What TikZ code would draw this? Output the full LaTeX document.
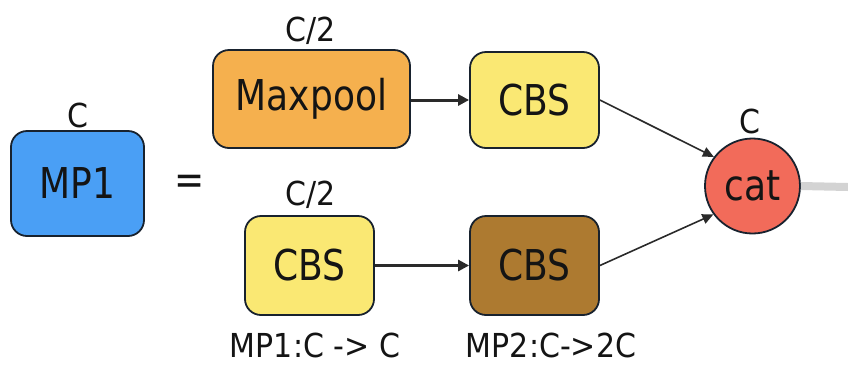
\documentclass[tikz,border=0pt]{standalone}
\usepackage{fontspec}
\setmainfont{DejaVu Sans}
\usepackage{graphicx}
\usetikzlibrary{arrows.meta}
\definecolor{mpblue}{HTML}{4A9FF5}
\definecolor{mporange}{HTML}{F5B04E}
\definecolor{mpyellow}{HTML}{FAE873}
\definecolor{mpbrown}{HTML}{AD7A30}
\definecolor{mpred}{HTML}{F26B5A}
\definecolor{bordc}{HTML}{18222E}
\definecolor{txtc}{HTML}{141414}
\definecolor{linec}{HTML}{2A2A2A}
\definecolor{outc}{HTML}{D3D3D3}
\newcommand\bigtxt[1]{\scalebox{1}[1.18]{\fontsize{36}{40}\selectfont #1}}
\newcommand\smalltxt[1]{\scalebox{1}[1.1]{\fontsize{30}{34}\selectfont #1}}
\begin{document}
\begin{tikzpicture}[x=1pt,y=-1pt,
  box/.style={draw=bordc,line width=1.8pt,rounded corners=16pt,inner sep=0pt,text=txtc},
  lbl/.style={inner sep=0pt,anchor=base,text=txtc},
  arr/.style={draw=linec,line width=3pt,-{Triangle[length=11pt,width=11pt]}},
  darr/.style={draw=linec,line width=1.6pt,-{Triangle[length=11pt,width=10pt]}}]
\useasboundingbox (0,0) rectangle (848,365);
\node[box,fill=mpblue,minimum width=133pt,minimum height=105pt] (mp1) at (77.5,183.5) {\bigtxt{MP1}};
\node[lbl] (lc1) at (78,127) {\smalltxt{C}};
\node[inner sep=0pt,text=txtc] (eq) at (190,185) {\bigtxt{=}};
\node[box,fill=mporange,minimum width=197pt,minimum height=98pt] (mx) at (311.5,99) {\bigtxt{Maxpool}};
\node[lbl] (lc2) at (311,41) {\smalltxt{C/2}};
\node[box,fill=mpyellow,minimum width=129pt,minimum height=96pt] (cbs1) at (534.5,100) {\bigtxt{CBS}};
\node[box,fill=mpyellow,minimum width=129pt,minimum height=99pt] (cbs2) at (309.5,265.5) {\bigtxt{CBS}};
\node[lbl] (lc3) at (311,205) {\smalltxt{C/2}};
\node[box,fill=mpbrown,minimum width=129pt,minimum height=99pt] (cbs3) at (534.5,265.5) {\bigtxt{CBS}};
\node[circle,draw=bordc,line width=1.8pt,fill=mpred,minimum size=95pt,inner sep=0pt,text=txtc] (cat) at (752.5,186) {\bigtxt{cat}};
\node[lbl] (lc4) at (750,133) {\smalltxt{C}};
\node[lbl] (n1) at (315,357) {\smalltxt{MP1:C -> C}};
\node[lbl] (n2) at (551,357) {\smalltxt{MP2:C->2C}};
\coordinate (outend) at (848,187);
\draw[arr] (mx.east |- cbs1.west) -- (cbs1.west);
\draw[arr] (cbs2.east) -- (cbs3.west);
\draw[darr] (cbs1.east) -- (cat.143);
\draw[darr] (cbs3.east) -- (cat.216);
\draw[draw=outc,line width=8pt] (cat.east) -- (outend);
\end{tikzpicture}
\end{document}
